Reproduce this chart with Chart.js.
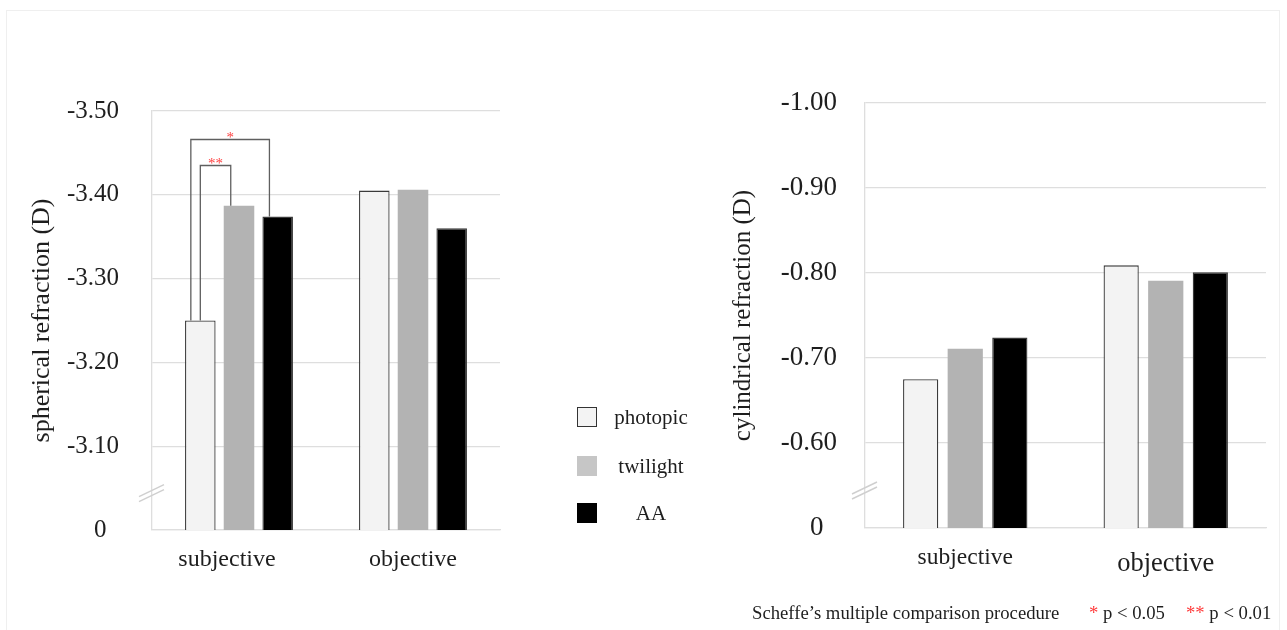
<!DOCTYPE html>
<html>
<head>
<meta charset="utf-8">
<script src="https://cdn.jsdelivr.net/npm/chart.js@4.4.1/dist/chart.umd.min.js"></script>
<style>
  html, body { margin: 0; padding: 0; background: #fff; }
  body { width: 1287px; height: 630px; position: relative; overflow: hidden;
         font-family: "Liberation Serif", "Times New Roman", serif; color: #1e1e1e; }
  .frame { position: absolute; left: 6px; top: 10px; width: 1274px; height: 640px;
           border: 1px solid #efefef; box-sizing: border-box; }
  #wrapL { position: absolute; left: 0; top: 0; width: 520px; height: 630px; }
  #wrapR { position: absolute; left: 700px; top: 0; width: 587px; height: 630px; }
  .lg-item { position: absolute; left: 577px; width: 130px; height: 20px; }
  .lg-box { position: absolute; left: 0; top: 0; width: 20px; height: 20px; box-sizing: border-box; }
  .lg-text { position: absolute; left: 24px; width: 100px; top: -2px; text-align: center;
             font-size: 21px; line-height: 24px; }
  .note { position: absolute; top: 602px; font-size: 18.7px; line-height: 22px; white-space: nowrap; }
  .red { color: #ff3b3b; }
</style>
</head>
<body>
<div class="frame"></div>
<div id="wrapL"><canvas id="sph" width="520" height="630"></canvas></div>
<div id="wrapR"><canvas id="cyl" width="587" height="630"></canvas></div>
<div id="legend"></div>
<div class="note" style="left:752px">Scheffe’s multiple comparison procedure</div>
<div class="note" style="left:1089px"><span class="red">*</span> p &lt; 0.05</div>
<div class="note" style="left:1186px"><span class="red">**</span> p &lt; 0.01</div>

<script>
// ---- data ----
const categories = ['subjective', 'objective'];
const seriesNames = ['photopic', 'twilight', 'AA'];

// spherical refraction (D)
const sphPhotopic = [-3.250, -3.405];
const sphTwilight = [-3.387, -3.406];
const sphAA       = [-3.374, -3.360];
const sphTickValues = [-3.0, -3.1, -3.2, -3.3, -3.4, -3.5];
const sphTickLabels = ['0', '-3.10', '-3.20', '-3.30', '-3.40', '-3.50'];

// cylindrical refraction (D)
const cylPhotopic = [-0.675, -0.809];
const cylTwilight = [-0.711, -0.791];
const cylAA       = [-0.724, -0.801];
const cylTickValues = [-0.5, -0.6, -0.7, -0.8, -0.9, -1.0];
const cylTickLabels = ['0', '-0.60', '-0.70', '-0.80', '-0.90', '-1.00'];

// significance brackets on the spherical chart (subjective group)
const sphBrackets = [
  { from: 0, to: 1, level: -3.435, label: '**' },
  { from: 0, to: 2, level: -3.466, label: '*' }
];

// ---- styles ----
const FONT = '"Liberation Serif", "Times New Roman", serif';
const TEXT = '#1e1e1e';
const fills   = ['#f3f3f3', '#b3b3b3', '#000000'];
const borders = ['#3a3a3a', '#b3b3b3', '#3a3a3a'];
const legendFills = ['#f3f3f3', '#c6c6c6', '#000000'];
const GRID = '#dedede';

function makeDatasets(values) {
  return values.map((vals, i) => ({
    label: seriesNames[i],
    data: vals,
    backgroundColor: fills[i],
    borderColor: borders[i],
    borderWidth: i === 1 ? 0 : 1.3,
    barPercentage: 0.79,
    categoryPercentage: 0.667
  }));
}

// axis break marks ("//") between the zero tick and the first value tick
const breakMarks = {
  id: 'breakMarks',
  afterDraw(chart) {
    const { ctx, chartArea } = chart;
    const y = chart.scales.y;
    const vals = chart.options.plugins.breakMarks.ticks;
    const yMid = (y.getPixelForValue(vals[0]) + y.getPixelForValue(vals[1])) / 2 + 5;
    const x = chartArea.left;
    ctx.save();
    ctx.strokeStyle = '#cfcfcf';
    ctx.lineWidth = 1.4;
    [-2.5, 2.5].forEach(off => {
      ctx.beginPath();
      ctx.moveTo(x - 13, yMid + 6 + off);
      ctx.lineTo(x + 12, yMid - 6 + off);
      ctx.stroke();
    });
    ctx.restore();
  }
};

// significance brackets drawn above the bars
const brackets = {
  id: 'brackets',
  afterDatasetsDraw(chart) {
    const list = chart.options.plugins.brackets.items || [];
    if (!list.length) return;
    const { ctx } = chart;
    const y = chart.scales.y;
    ctx.save();
    ctx.lineWidth = 1.3;
    ctx.strokeStyle = '#5f5f5f';
    list.forEach(b => {
      const a = chart.getDatasetMeta(b.from).data[0];
      const c = chart.getDatasetMeta(b.to).data[0];
      const xa = b.label === '**' ? a.x : a.x - 0.31 * a.width;
      const xc = c.x - 0.27 * c.width;
      const yt = Math.round(y.getPixelForValue(b.level)) + 0.5;
      ctx.beginPath();
      ctx.moveTo(xa, a.y);
      ctx.lineTo(xa, yt);
      ctx.lineTo(xc, yt);
      ctx.lineTo(xc, c.y);
      ctx.stroke();
      ctx.fillStyle = '#ff4040';
      ctx.font = '15px ' + FONT;
      ctx.textAlign = 'center';
      ctx.textBaseline = 'alphabetic';
      ctx.fillText(b.label, (xa + xc) / 2, yt + 2);
    });
    ctx.restore();
  }
};

function makeChart(canvasId, values, tickValues, tickLabels, title, cfg) {
  const base = tickValues[0];
  return new Chart(document.getElementById(canvasId), {
    type: 'bar',
    data: { labels: categories, datasets: makeDatasets(values) },
    plugins: [breakMarks, brackets],
    options: {
      responsive: false,
      animation: false,
      devicePixelRatio: 1,
      layout: { autoPadding: false, padding: cfg.padding },
      plugins: {
        legend: { display: false },
        tooltip: { enabled: false },
        breakMarks: { ticks: tickValues },
        brackets: { items: cfg.brackets || [] }
      },
      scales: {
        x: {
          grid: { display: false, drawTicks: false },
          border: { display: true, color: GRID, width: 1.3 },
          ticks: {
            color: TEXT,
            padding: cfg.xPad,
            font: ctx => ({ family: FONT, size: cfg.xFont[ctx.index], lineHeight: cfg.xLine[ctx.index] }),
            callback: (v, i) => categories[i] + (cfg.xTrail[i] || '')
          },
          afterFit: s => { s.height = cfg.xHeight; }
        },
        y: {
          reverse: true,
          min: Math.min(...tickValues),
          max: Math.max(...tickValues),
          afterBuildTicks: s => { s.ticks = tickValues.map(v => ({ value: v })); },
          grid: { color: GRID, lineWidth: 1.3, drawTicks: false },
          border: { display: true, color: GRID, width: 1.3 },
          ticks: {
            color: TEXT,
            padding: cfg.yPad,
            font: { family: FONT, size: cfg.yFont },
            callback: v => {
              const lab = tickLabels[tickValues.findIndex(t => Math.abs(t - v) < 1e-9)];
              return Math.abs(v - base) < 1e-9 ? lab + '  ' : lab;
            }
          },
          title: {
            display: true,
            text: title,
            color: TEXT,
            font: { family: FONT, size: cfg.titleFont, lineHeight: 1.2 },
            padding: { top: cfg.titlePad, bottom: 0 }
          },
          afterFit: s => { s.width = cfg.yWidth; }
        }
      }
    }
  });
}

makeChart('sph', [sphPhotopic, sphTwilight, sphAA], sphTickValues, sphTickLabels,
  'spherical refraction (D)', {
    padding: { top: 111, left: 0, right: 20, bottom: 40 },
    xHeight: 60, xPad: 15, xFont: [24, 24], xLine: [1.2, 1.2], xTrail: ['    ', ''],
    yWidth: 152, yPad: 33, yFont: 25,
    titleFont: 26, titlePad: 27,
    brackets: sphBrackets
  });

makeChart('cyl', [cylPhotopic, cylTwilight, cylAA], cylTickValues, cylTickLabels,
  'cylindrical refraction (D)', {
    padding: { top: 103, left: 0, right: 21, bottom: 42 },
    xHeight: 60, xPad: 15, xFont: [23.5, 26.5], xLine: [1.3, 1.6], xTrail: ['', ''],
    yWidth: 165, yPad: 28, yFont: 27,
    titleFont: 25, titlePad: 28
  });

// legend built from the series definitions
const legend = document.getElementById('legend');
const legendTops = [407, 456, 503];
seriesNames.forEach((name, i) => {
  const item = document.createElement('div');
  item.className = 'lg-item';
  item.style.top = legendTops[i] + 'px';
  const box = document.createElement('div');
  box.className = 'lg-box';
  box.style.background = legendFills[i];
  if (i === 0) box.style.border = '1.5px solid #333';
  const txt = document.createElement('div');
  txt.className = 'lg-text';
  txt.textContent = name;
  item.appendChild(box);
  item.appendChild(txt);
  legend.appendChild(item);
});
</script>
</body>
</html>
